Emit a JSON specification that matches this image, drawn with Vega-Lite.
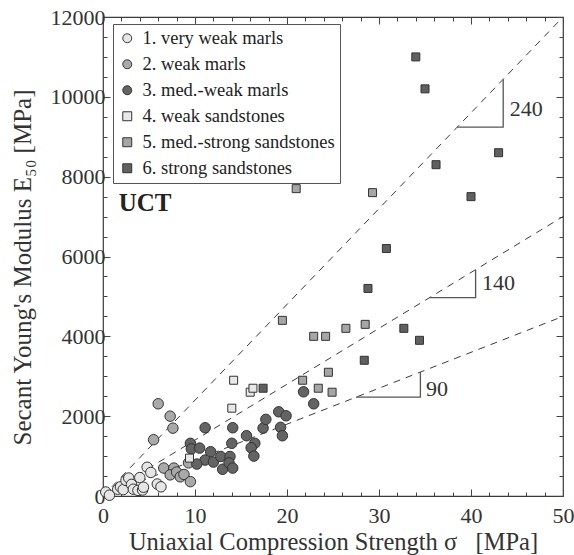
{
  "$schema": "https://vega.github.io/schema/vega-lite/v6.json",
  "width": 460,
  "height": 479,
  "autosize": "none",
  "padding": {"left": 103, "top": 17, "right": 11, "bottom": 59},
  "background": "white",
  "config": {
    "font": "'Liberation Serif', 'Times New Roman', serif",
    "view": {"stroke": "#3a3a3a", "strokeWidth": 1.2},
    "axis": {
      "grid": false,
      "domain": false,
      "labelFont": "'Liberation Serif', 'Times New Roman', serif",
      "titleFont": "'Liberation Serif', 'Times New Roman', serif",
      "labelColor": "#333",
      "titleColor": "#333",
      "tickColor": "#444",
      "tickWidth": 1,
      "labelFontSize": 22,
      "titleFontSize": 25,
      "titleFontWeight": "normal",
      "labelOverlap": false,
      "labelFlush": false
    },
    "legend": {
      "labelFont": "'Liberation Serif', 'Times New Roman', serif"
    },
    "text": {"font": "'Liberation Serif', 'Times New Roman', serif"}
  },
  "datasets": {
    "samples": [
      {"group": "1. very weak marls", "ucs": 0.3, "e50": 100},
      {"group": "1. very weak marls", "ucs": 0.7, "e50": 20},
      {"group": "1. very weak marls", "ucs": 1.6, "e50": 170},
      {"group": "1. very weak marls", "ucs": 1.9, "e50": 230},
      {"group": "1. very weak marls", "ucs": 2.2, "e50": 160},
      {"group": "1. very weak marls", "ucs": 2.5, "e50": 390},
      {"group": "1. very weak marls", "ucs": 2.8, "e50": 450},
      {"group": "1. very weak marls", "ucs": 3.1, "e50": 290},
      {"group": "1. very weak marls", "ucs": 3.3, "e50": 170},
      {"group": "1. very weak marls", "ucs": 3.8, "e50": 140},
      {"group": "1. very weak marls", "ucs": 4.0, "e50": 460},
      {"group": "1. very weak marls", "ucs": 4.3, "e50": 150},
      {"group": "1. very weak marls", "ucs": 4.4, "e50": 220},
      {"group": "1. very weak marls", "ucs": 4.8, "e50": 720},
      {"group": "1. very weak marls", "ucs": 5.2, "e50": 590},
      {"group": "1. very weak marls", "ucs": 5.9, "e50": 300},
      {"group": "1. very weak marls", "ucs": 6.3, "e50": 230},
      {"group": "2. weak marls", "ucs": 6.0, "e50": 2310},
      {"group": "2. weak marls", "ucs": 7.3, "e50": 2000},
      {"group": "2. weak marls", "ucs": 7.6, "e50": 1700},
      {"group": "2. weak marls", "ucs": 5.5, "e50": 1410},
      {"group": "2. weak marls", "ucs": 6.6, "e50": 700},
      {"group": "2. weak marls", "ucs": 7.7, "e50": 700},
      {"group": "2. weak marls", "ucs": 7.3, "e50": 530},
      {"group": "2. weak marls", "ucs": 8.0, "e50": 600},
      {"group": "2. weak marls", "ucs": 8.4, "e50": 480},
      {"group": "2. weak marls", "ucs": 8.8, "e50": 540},
      {"group": "2. weak marls", "ucs": 9.5, "e50": 360},
      {"group": "2. weak marls", "ucs": 9.3, "e50": 830},
      {"group": "4. weak sandstones", "ucs": 9.4, "e50": 950},
      {"group": "4. weak sandstones", "ucs": 14.2, "e50": 2900},
      {"group": "4. weak sandstones", "ucs": 14.0, "e50": 2200},
      {"group": "4. weak sandstones", "ucs": 16.0, "e50": 2600},
      {"group": "4. weak sandstones", "ucs": 16.3, "e50": 2700},
      {"group": "3. med.-weak marls", "ucs": 9.5, "e50": 1320},
      {"group": "3. med.-weak marls", "ucs": 9.6, "e50": 1180},
      {"group": "3. med.-weak marls", "ucs": 10.5, "e50": 1200},
      {"group": "3. med.-weak marls", "ucs": 11.1, "e50": 1710},
      {"group": "3. med.-weak marls", "ucs": 11.7, "e50": 1110},
      {"group": "3. med.-weak marls", "ucs": 11.1, "e50": 900},
      {"group": "3. med.-weak marls", "ucs": 12.0, "e50": 850},
      {"group": "3. med.-weak marls", "ucs": 10.2, "e50": 800},
      {"group": "3. med.-weak marls", "ucs": 12.8, "e50": 990},
      {"group": "3. med.-weak marls", "ucs": 13.8, "e50": 990},
      {"group": "3. med.-weak marls", "ucs": 14.0, "e50": 1320},
      {"group": "3. med.-weak marls", "ucs": 14.1, "e50": 1710},
      {"group": "3. med.-weak marls", "ucs": 13.0, "e50": 670},
      {"group": "3. med.-weak marls", "ucs": 13.7, "e50": 830},
      {"group": "3. med.-weak marls", "ucs": 14.1, "e50": 700},
      {"group": "3. med.-weak marls", "ucs": 15.6, "e50": 1510},
      {"group": "3. med.-weak marls", "ucs": 16.5, "e50": 1320},
      {"group": "3. med.-weak marls", "ucs": 16.1, "e50": 1210},
      {"group": "3. med.-weak marls", "ucs": 16.4, "e50": 1000},
      {"group": "3. med.-weak marls", "ucs": 17.4, "e50": 1700},
      {"group": "3. med.-weak marls", "ucs": 17.7, "e50": 1920},
      {"group": "3. med.-weak marls", "ucs": 19.1, "e50": 2110},
      {"group": "3. med.-weak marls", "ucs": 19.9, "e50": 2010},
      {"group": "3. med.-weak marls", "ucs": 19.3, "e50": 1720},
      {"group": "3. med.-weak marls", "ucs": 19.5, "e50": 1510},
      {"group": "3. med.-weak marls", "ucs": 21.8, "e50": 2610},
      {"group": "3. med.-weak marls", "ucs": 22.9, "e50": 2310},
      {"group": "5. med.-strong sandstones", "ucs": 21.0, "e50": 7700},
      {"group": "5. med.-strong sandstones", "ucs": 29.3, "e50": 7600},
      {"group": "5. med.-strong sandstones", "ucs": 19.5, "e50": 4400},
      {"group": "5. med.-strong sandstones", "ucs": 22.9, "e50": 4000},
      {"group": "5. med.-strong sandstones", "ucs": 24.2, "e50": 4000},
      {"group": "5. med.-strong sandstones", "ucs": 26.4, "e50": 4200},
      {"group": "5. med.-strong sandstones", "ucs": 28.5, "e50": 4300},
      {"group": "5. med.-strong sandstones", "ucs": 24.5, "e50": 3100},
      {"group": "5. med.-strong sandstones", "ucs": 21.7, "e50": 2900},
      {"group": "5. med.-strong sandstones", "ucs": 23.4, "e50": 2700},
      {"group": "5. med.-strong sandstones", "ucs": 24.9, "e50": 2600},
      {"group": "6. strong sandstones", "ucs": 34.0, "e50": 11000},
      {"group": "6. strong sandstones", "ucs": 35.0, "e50": 10200},
      {"group": "6. strong sandstones", "ucs": 43.0, "e50": 8600},
      {"group": "6. strong sandstones", "ucs": 36.2, "e50": 8300},
      {"group": "6. strong sandstones", "ucs": 40.0, "e50": 7500},
      {"group": "6. strong sandstones", "ucs": 30.8, "e50": 6200},
      {"group": "6. strong sandstones", "ucs": 28.8, "e50": 5200},
      {"group": "6. strong sandstones", "ucs": 32.7, "e50": 4200},
      {"group": "6. strong sandstones", "ucs": 34.4, "e50": 3900},
      {"group": "6. strong sandstones", "ucs": 28.4, "e50": 3400},
      {"group": "6. strong sandstones", "ucs": 17.4, "e50": 2700}
    ],
    "ratioLines": [
      {"ratio": "240", "ucs": 0, "e50": 0},
      {"ratio": "240", "ucs": 50, "e50": 12000},
      {"ratio": "140", "ucs": 0, "e50": 0},
      {"ratio": "140", "ucs": 50, "e50": 7000},
      {"ratio": "90", "ucs": 0, "e50": 0},
      {"ratio": "90", "ucs": 50, "e50": 4500}
    ],
    "slopeMarkers": [
      {"ratio": "240", "step": 1, "ucs": 38.5, "e50": 9240},
      {"ratio": "240", "step": 2, "ucs": 43.5, "e50": 9240},
      {"ratio": "240", "step": 3, "ucs": 43.5, "e50": 10440},
      {"ratio": "140", "step": 1, "ucs": 35.5, "e50": 4970},
      {"ratio": "140", "step": 2, "ucs": 40.5, "e50": 4970},
      {"ratio": "140", "step": 3, "ucs": 40.5, "e50": 5670},
      {"ratio": "90", "step": 1, "ucs": 27.5, "e50": 2475},
      {"ratio": "90", "step": 2, "ucs": 34.5, "e50": 2475},
      {"ratio": "90", "step": 3, "ucs": 34.5, "e50": 3105}
    ],
    "slopeLabels": [
      {"label": "240", "ucs": 44.2, "e50": 9690},
      {"label": "140", "ucs": 41.2, "e50": 5340},
      {"label": "90", "ucs": 35.1, "e50": 2680}
    ]
  },
  "layer": [
    {
      "data": {"name": "ratioLines"},
      "mark": {"type": "line", "color": "#3c3c3c", "strokeWidth": 1, "strokeDash": [7, 6], "clip": true},
      "encoding": {
        "x": {
          "field": "ucs", "type": "quantitative",
          "scale": {"domain": [0, 50], "nice": false, "zero": false},
          "axis": {
            "orient": "top", "labels": false, "title": null,
            "values": [0, 2, 4, 6, 8, 10, 12, 14, 16, 18, 20, 22, 24, 26, 28, 30, 32, 34, 36, 38, 40, 42, 44, 46, 48, 50],
            "tickSize": {"condition": {"test": "datum.value % 10 === 0", "value": -7}, "value": -4}
          }
        },
        "y": {
          "field": "e50", "type": "quantitative",
          "scale": {"domain": [0, 12000], "nice": false, "zero": false},
          "axis": {
            "orient": "right", "labels": false, "title": null,
            "values": [0, 500, 1000, 1500, 2000, 2500, 3000, 3500, 4000, 4500, 5000, 5500, 6000, 6500, 7000, 7500, 8000, 8500, 9000, 9500, 10000, 10500, 11000, 11500, 12000],
            "tickSize": {"condition": {"test": "datum.value % 2000 === 0", "value": -7}, "value": -4}
          }
        },
        "detail": {"field": "ratio"}
      }
    },
    {
      "data": {"name": "slopeMarkers"},
      "mark": {"type": "line", "color": "#555", "strokeWidth": 1.3},
      "encoding": {
        "x": {"field": "ucs", "type": "quantitative", "axis": null},
        "y": {"field": "e50", "type": "quantitative", "axis": null},
        "detail": {"field": "ratio"},
        "order": {"field": "step"}
      }
    },
    {
      "data": {"name": "slopeLabels"},
      "mark": {"type": "text", "align": "left", "baseline": "middle", "fontSize": 22, "color": "#333"},
      "encoding": {
        "x": {"field": "ucs", "type": "quantitative", "axis": null},
        "y": {"field": "e50", "type": "quantitative", "axis": null},
        "text": {"field": "label"}
      }
    },
    {
      "data": {"values": [{"label": "UCT", "ucs": 1.7, "e50": 7350}]},
      "mark": {"type": "text", "align": "left", "baseline": "middle", "fontSize": 25, "fontWeight": "bold", "color": "#222"},
      "encoding": {
        "x": {"field": "ucs", "type": "quantitative", "axis": null},
        "y": {"field": "e50", "type": "quantitative", "axis": null},
        "text": {"field": "label"}
      }
    },
    {
      "data": {"values": [{"label": "ci", "ucs": 38.3, "e50": -2300}]},
      "mark": {"type": "text", "align": "left", "baseline": "middle", "fontSize": 17, "fontStyle": "italic", "color": "#333", "clip": false},
      "encoding": {
        "x": {"field": "ucs", "type": "quantitative", "axis": null},
        "y": {"field": "e50", "type": "quantitative", "axis": null},
        "text": {"field": "label"}
      }
    },
    {
      "data": {"name": "samples"},
      "transform": [{"filter": "indexof(datum.group, 'marls') >= 0"}],
      "mark": {"type": "point", "filled": true, "opacity": 1, "stroke": "#333", "strokeWidth": 1, "size": 110},
      "encoding": {
        "x": {
          "field": "ucs", "type": "quantitative",
          "axis": {
            "orient": "bottom",
            "title": "Uniaxial Compression Strength σ\u00a0\u00a0\u00a0[MPa]",
            "titleFontSize": 24.5,
            "titlePadding": 1,
            "labelFontSize": 22,
            "labelPadding": 16,
            "format": "d",
            "values": [0, 2, 4, 6, 8, 10, 12, 14, 16, 18, 20, 22, 24, 26, 28, 30, 32, 34, 36, 38, 40, 42, 44, 46, 48, 50],
            "labelExpr": "datum.value % 10 === 0 ? datum.label : ''",
            "tickSize": {"condition": {"test": "datum.value % 10 === 0", "value": -7}, "value": -4}
          }
        },
        "y": {
          "field": "e50", "type": "quantitative",
          "axis": {
            "orient": "left",
            "title": "Secant Young's Modulus E₅₀ [MPa]",
            "titleFontSize": 25,
            "titlePadding": 15,
            "titleY": 250,
            "labelFontSize": 22,
            "labelPadding": 5,
            "format": "d",
            "values": [0, 500, 1000, 1500, 2000, 2500, 3000, 3500, 4000, 4500, 5000, 5500, 6000, 6500, 7000, 7500, 8000, 8500, 9000, 9500, 10000, 10500, 11000, 11500, 12000],
            "labelExpr": "datum.value % 2000 === 0 ? datum.label : ''",
            "tickSize": {"condition": {"test": "datum.value % 2000 === 0", "value": -7}, "value": -4}
          }
        },
        "fill": {
          "field": "group", "type": "nominal",
          "scale": {
            "domain": ["1. very weak marls", "2. weak marls", "3. med.-weak marls", "4. weak sandstones", "5. med.-strong sandstones", "6. strong sandstones"],
            "range": ["#e6e6e6", "#a9a9a9", "#646464", "#e8e8e8", "#a6a6a6", "#606060"]
          },
          "legend": {
            "title": null,
            "orient": "none",
            "legendX": 10,
            "legendY": 7,
            "fillColor": "white",
            "strokeColor": "#555",
            "padding": 5,
            "rowPadding": 7,
            "labelFontSize": 18.5,
            "labelColor": "#222",
            "labelLimit": 400,
            "symbolSize": 80,
            "symbolStrokeColor": "#333",
            "symbolStrokeWidth": 1,
            "symbolOffset": 0,
            "labelOffset": 6
          }
        },
        "shape": {
          "field": "group", "type": "nominal",
          "scale": {
            "domain": ["1. very weak marls", "2. weak marls", "3. med.-weak marls", "4. weak sandstones", "5. med.-strong sandstones", "6. strong sandstones"],
            "range": ["circle", "circle", "circle", "square", "square", "square"]
          }
        }
      }
    },
    {
      "data": {"name": "samples"},
      "transform": [{"filter": "indexof(datum.group, 'sandstones') >= 0"}],
      "mark": {"type": "point", "filled": true, "opacity": 1, "stroke": "#333", "strokeWidth": 1, "size": 64},
      "encoding": {
        "x": {"field": "ucs", "type": "quantitative", "axis": null},
        "y": {"field": "e50", "type": "quantitative", "axis": null},
        "fill": {"field": "group", "type": "nominal"},
        "shape": {"field": "group", "type": "nominal"}
      }
    }
  ],
  "resolve": {"axis": {"x": "independent", "y": "independent"}}
}
